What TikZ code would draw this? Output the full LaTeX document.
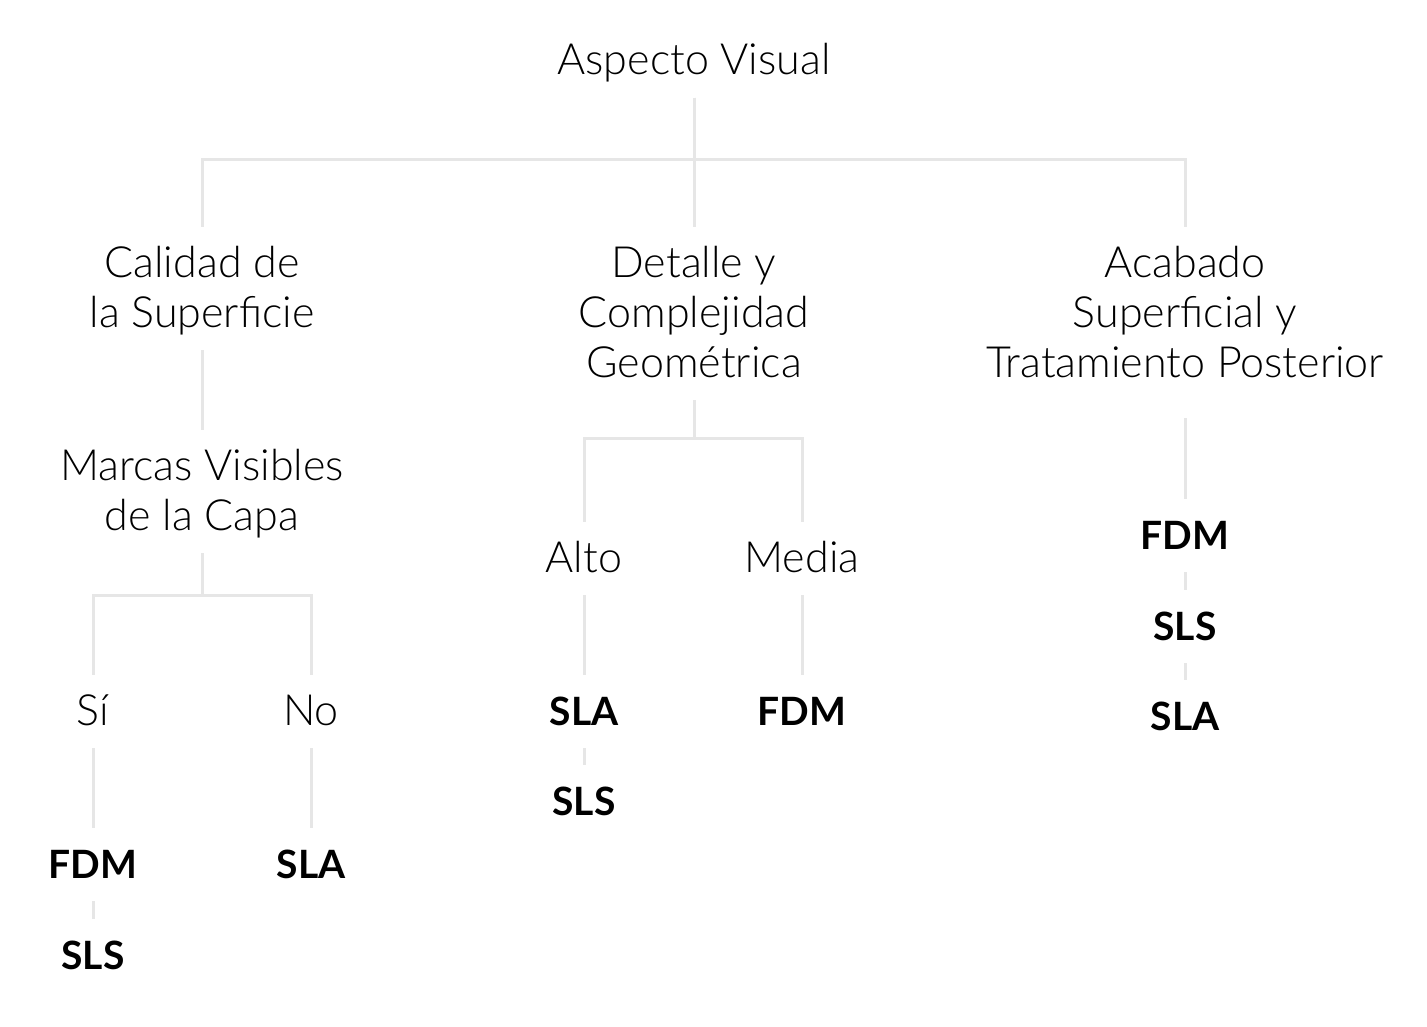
\documentclass[tikz,border=0pt]{standalone}
\usepackage{fontspec}
\setmainfont{Lato}[UprightFont=* Light, BoldFont=* Bold]
\begin{document}
\begin{tikzpicture}[x=1pt,y=-1pt,
  lbl/.style={anchor=base, inner sep=0pt, outer sep=0pt, align=center,
    font=\fontsize{43}{50}\selectfont, text height=50pt, text depth=23pt},
  lbltwo/.style={lbl, text height=100pt},
  lblthree/.style={lbl, text height=150pt},
  res/.style={lbl, font=\fontsize{39}{50}\selectfont\bfseries},
  conn/.style={draw=linegray, line width=3pt}]
\definecolor{linegray}{HTML}{E6E6E6}
\useasboundingbox[fill=white] (0,0) rectangle (1427,1027);

\node[lbl] (root) at (694,75) {Aspecto Visual};

\node[lbltwo] (cal) at (202,327) {Calidad de\\la Superficie};
\node[lblthree] (det) at (694,377) {Detalle y\\Complejidad\\Geométrica};
\node[lblthree] (aca) at (1185,377) {Acabado\\Superficial y\\Tratamiento Posterior};

\node[lbltwo] (mar) at (202,530) {Marcas Visibles\\de la Capa};
\node[lbl] (si) at (93,725) {Sí};
\node[lbl] (no) at (311,725) {No};
\node[res] (fdmA) at (93,878) {FDM};
\node[res] (slsA) at (93,969) {SLS};
\node[res] (slaA) at (311,878) {SLA};

\node[lbl] (alto) at (584,572) {Alto};
\node[lbl] (media) at (802,572) {Media};
\node[res] (slaB) at (584,725) {SLA};
\node[res] (slsB) at (584,815) {SLS};
\node[res] (fdmB) at (802,725) {FDM};

\node[res] (fdmC) at (1185,549) {FDM};
\node[res] (slsC) at (1185,640) {SLS};
\node[res] (slaC) at (1185,730) {SLA};

\draw[conn] (root.south) -- ++(0,62) -| (cal.north);
\draw[conn] (root.south) -- (det.north);
\draw[conn] (root.south) -- ++(0,62) -| (aca.north);

\draw[conn] (cal.south) -- (mar.north);
\draw[conn] (mar.south) -- ++(0,42) -| (si.north);
\draw[conn] (mar.south) -- ++(0,42) -| (no.north);
\draw[conn] (si.south) -- (fdmA.north);
\draw[conn] (no.south) -- (slaA.north);
\draw[conn] (fdmA.south) -- (slsA.north);

\draw[conn] (det.south) -- ++(0,38) -| (alto.north);
\draw[conn] (det.south) -- ++(0,38) -| (media.north);
\draw[conn] (alto.south) -- (slaB.north);
\draw[conn] (media.south) -- (fdmB.north);
\draw[conn] (slaB.south) -- (slsB.north);

\draw[conn, shorten <=18pt] (aca.south) -- (fdmC.north);
\draw[conn] (fdmC.south) -- (slsC.north);
\draw[conn] (slsC.south) -- (slaC.north);
\end{tikzpicture}
\end{document}
